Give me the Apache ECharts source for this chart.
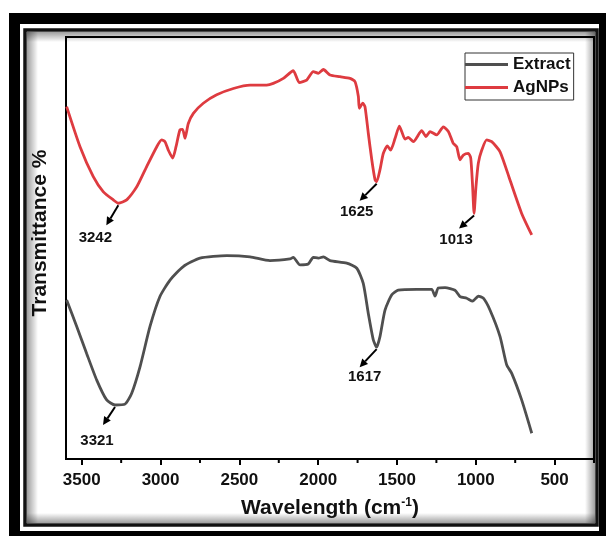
<!DOCTYPE html>
<html><head><meta charset="utf-8">
<script src="https://cdn.jsdelivr.net/npm/echarts@6/dist/echarts.min.js"></script>
<style>html,body{margin:0;padding:0;background:#fff}#c{width:606px;height:536px}</style>
</head><body><div id="c"></div>
<script>
// ---- data (relative transmittance, arbitrary units 0-100) ----
const xTickLabels = [3500, 3000, 2500, 2000, 1500, 1000, 500];
const xMinorTicks = [3250, 2750, 2250, 1750, 1250, 750, 250];

const extractWn = [3596,3532,3469,3405,3342,3289,3226,3183,3130,3067,3004,2940,2856,2750,2580,2432,2306,2179,2158,2115,2063,2031,1999,1967,1925,1819,1755,1714,1682,1650,1629,1608,1576,1533,1492,1375,1280,1259,1238,1195,1132,1100,1058,1020,984,952,910,846,804,772,709,645];
const extractT = [37.7,31.4,25.0,18.7,14.0,12.8,13.0,15.6,21.9,31.4,38.5,42.4,45.6,47.6,48.2,47.9,47.0,47.4,47.8,46.0,46.2,47.8,47.6,47.9,47.0,46.4,45.2,41.6,34.5,28.2,26.5,29.0,35.3,38.9,40.0,40.2,40.2,38.6,40.5,40.6,40.0,38.5,38.1,37.4,38.6,38.1,35.3,29.0,22.3,20.3,14.0,6.1];

const agnpsWn = [3596,3511,3427,3363,3300,3268,3215,3151,3088,3024,2993,2972,2951,2923,2902,2877,2860,2845,2824,2792,2729,2644,2538,2432,2327,2285,2221,2158,2120,2073,2031,1999,1967,1925,1862,1798,1766,1745,1739,1717,1703,1682,1660,1639,1629,1608,1587,1561,1540,1512,1485,1470,1449,1428,1396,1343,1316,1290,1248,1206,1174,1143,1121,1100,1079,1047,1032,1020,1011,999,984,962,931,899,846,783,709,645];
const agnpsT = [83.5,74.0,66.9,63.3,61.4,60.6,61.4,64.5,69.3,74.0,75.6,75.2,73.2,71.3,74.0,78.0,78.1,76.0,79.5,81.9,84.3,86.3,87.8,88.6,88.6,89.0,90.2,92.0,89.2,89.8,91.8,91.4,92.3,91.0,90.6,90.2,89.4,85.9,83.1,84.3,83.5,77.2,70.9,66.1,65.7,68.5,72.4,74.2,73.2,76.0,78.9,77.6,75.8,76.2,75.2,77.8,76.4,77.6,76.8,78.7,77.6,74.8,74.0,70.9,72.0,72.4,71.3,64.5,58.2,64.5,70.1,73.2,75.6,75.2,72.8,66.1,58.2,53.1];

const peakLabels = ['3242', '1625', '1013', '3321', '1617'];
const peakWn = [3268, 1629, 1011, 3289, 1629];
const peakT = [60.6, 65.7, 58.2, 12.8, 26.5];

// ---- styling (pixel offsets of annotation arrows / labels) ----
const arrowVec = [[-12, 20], [-17, 17], [-15, 13], [-12, 18], [-17, 18]];
const labelOff = [[-23, 35], [-20, 30], [-18, 26], [-18, 36], [-12, 30]];
const FONT = '"Liberation Sans", Arial, sans-serif';

const zip = (a, b) => a.map((v, i) => [v, b[i]]);

const chart = echarts.init(document.getElementById('c'), null, {renderer: 'canvas'});

const shade = (x, y, w, h, x2, y2, x1, y1) => ({
  type: 'rect', z: -8, silent: true,
  shape: {x, y, width: w, height: h},
  style: {fill: new echarts.graphic.LinearGradient(x1 || 0, y1 || 0, x2, y2, [
    {offset: 0, color: 'rgba(0,0,0,0.38)'}, {offset: 1, color: 'rgba(0,0,0,0)'}])}
});

chart.setOption({
  animation: false,
  backgroundColor: '#fff',
  graphic: [
    {type: 'rect', z: -10, silent: true, shape: {x: 9, y: 13, width: 597, height: 523}, style: {fill: '#000'}},
    {type: 'rect', z: -9, silent: true, shape: {x: 20, y: 24, width: 579, height: 507}, style: {fill: '#fff'}},
    {type: 'rect', z: -9, silent: true, shape: {x: 25, y: 30, width: 572, height: 495}, style: {fill: '#fff', stroke: '#111', lineWidth: 3.5}},
    shade(27, 32, 11, 491, 1, 0),
    shade(27, 32, 568, 10, 0, 1),
    shade(585, 32, 10, 491, 0, 0, 1, 0),
    shade(27, 513, 568, 10, 0, 0, 0, 1),
    {type: 'text', z: 5, x: 40, y: 233, rotation: Math.PI / 2,
     style: {text: 'Transmittance %', fill: '#111', fontSize: 21, fontWeight: 'bold', fontFamily: FONT, align: 'center', verticalAlign: 'middle'}}
  ],
  grid: {left: 66, right: 12, top: 37, bottom: 77, show: true, borderColor: '#000', borderWidth: 2, backgroundColor: 'transparent', outerBoundsMode: 'none'},
  legend: {
    data: ['Extract', 'AgNPs'], orient: 'vertical', left: 465, top: 53, selectedMode: false,
    icon: 'rect', itemWidth: 43, itemHeight: 3, itemGap: 4,
    borderColor: '#333', borderWidth: 1, padding: [2, 3, 3, 0],
    textStyle: {fontSize: 17, fontWeight: 'bold', color: '#111', lineHeight: 19, fontFamily: FONT}
  },
  xAxis: {
    type: 'value', inverse: true, min: 250, max: 3600, position: 'bottom',
    splitLine: {show: false},
    axisLine: {show: true, lineStyle: {color: '#000', width: 2}},
    axisTick: {show: true, customValues: xTickLabels, length: 6, lineStyle: {color: '#000', width: 2}},
    axisLabel: {customValues: xTickLabels, formatter: v => String(v), margin: 13, color: '#111', fontSize: 17, fontWeight: 'bold', fontFamily: FONT},
    name: 'Wavelength (cm{sup|-1})', nameLocation: 'middle', nameGap: 38,
    nameTextStyle: {color: '#111', fontSize: 21, fontWeight: 'bold', fontFamily: FONT,
      rich: {sup: {fontSize: 12, fontWeight: 'bold', fontFamily: FONT, color: '#111', verticalAlign: 'top', padding: [0, 0, 10, 0]}}}
  },
  yAxis: {
    type: 'value', min: 0, max: 100,
    axisLine: {show: true, lineStyle: {color: '#000', width: 2}},
    axisTick: {show: false}, axisLabel: {show: false}, splitLine: {show: false}
  },
  series: [
    {name: 'Extract', type: 'line', data: zip(extractWn, extractT), showSymbol: false, smooth: 0.2,
     lineStyle: {color: '#4f4f4f', width: 2.8}, itemStyle: {color: '#4f4f4f'}, z: 3},
    {name: 'AgNPs', type: 'line', data: zip(agnpsWn, agnpsT), showSymbol: false, smooth: 0.2,
     lineStyle: {color: '#de3b40', width: 2.8}, itemStyle: {color: '#de3b40'}, z: 3},
    {name: 'minorTicks', type: 'custom', clip: false, z: 5, silent: true,
     data: xMinorTicks.map(v => [v, 0]),
     renderItem: function (params, api) {
       const p = api.coord([api.value(0), api.value(1)]);
       return {type: 'line', shape: {x1: p[0], y1: p[1], x2: p[0], y2: p[1] + 4}, style: {stroke: '#000', lineWidth: 2}};
     }},
    {name: 'peaks', type: 'custom', clip: false, z: 4, silent: true,
     data: zip(peakWn, peakT),
     renderItem: function (params, api) {
       const i = params.dataIndex;
       const p = api.coord([api.value(0), api.value(1)]);
       const sx = p[0], sy = p[1] + 2;
       const v = arrowVec[i];
       const ex = sx + v[0], ey = sy + v[1];
       const len = Math.hypot(v[0], v[1]);
       const ux = v[0] / len, uy = v[1] / len;
       const hl = 8, hw = 4;
       const bx = ex - ux * hl, by = ey - uy * hl;
       const nx = -uy, ny = ux;
       return {type: 'group', children: [
         {type: 'line', shape: {x1: sx, y1: sy, x2: bx, y2: by}, style: {stroke: '#000', lineWidth: 2}},
         {type: 'polygon', shape: {points: [[ex, ey], [bx + nx * hw, by + ny * hw], [bx - nx * hw, by - ny * hw]]}, style: {fill: '#000'}},
         {type: 'text', x: p[0] + labelOff[i][0], y: p[1] + labelOff[i][1],
          style: {text: peakLabels[i], fill: '#111', fontSize: 15, fontWeight: 'bold', fontFamily: FONT, align: 'center', verticalAlign: 'middle'}}
       ]};
     }}
  ]
});
</script></body></html>
